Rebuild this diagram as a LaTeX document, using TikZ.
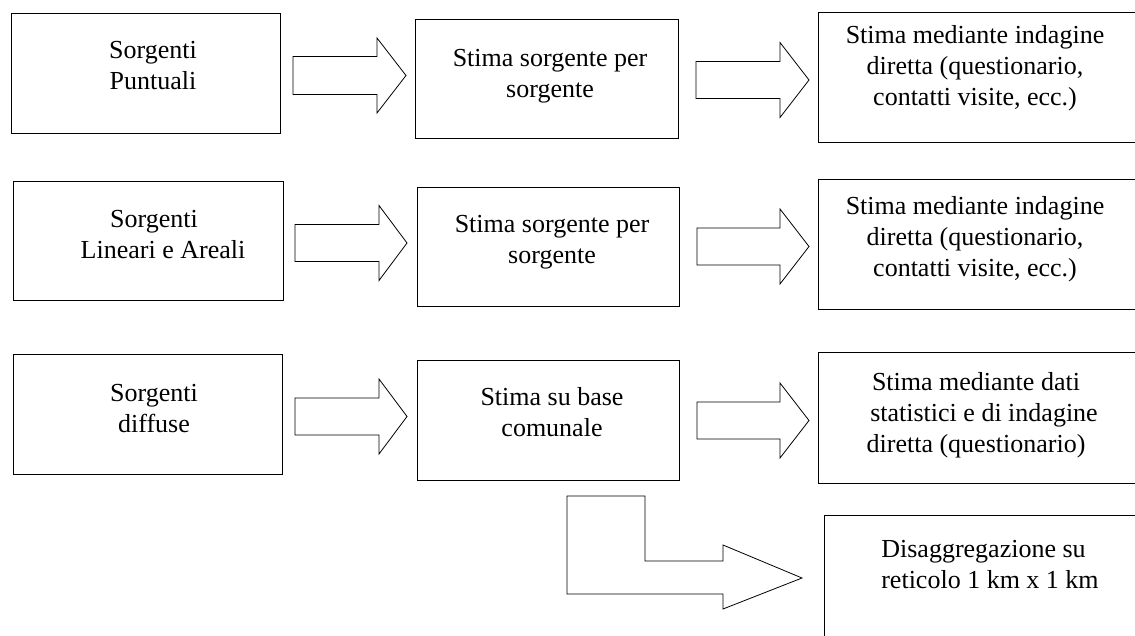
\documentclass[tikz,border=0pt]{standalone}
\usepackage{fontspec}
\setmainfont{Liberation Serif}
\newcommand\mlines[1]{\begin{tabular}[t]{@{}c@{}}#1\end{tabular}}
% x0, x head base, x tip, y centre, shaft half height, head half height
\newcommand\blkarrow[6]{%
  \draw[arrst] (#1,#4-#5) -- (#2,#4-#5) -- (#2,#4-#6) -- (#3,#4)
    -- (#2,#4+#6) -- (#2,#4+#5) -- (#1,#4+#5) -- cycle;}
\tikzset{
  boxst/.style={draw=black, line width=0.9pt, fill=white, rectangle,
    inner sep=0pt, anchor=north west},
  arrst/.style={draw=black, line width=0.8pt, fill=white, line join=miter},
  txtst/.style={inner sep=0pt, anchor=base, font=\fontsize{26}{31}\selectfont}
}
\begin{document}
\begin{tikzpicture}[x=1pt, y=-1pt]
\useasboundingbox (0,0) rectangle (1135,636);
\clip (0,0) rectangle (1135,636);
\fill[white] (0,0) rectangle (1135,636);
% boxes
\node[boxst, minimum width=269pt, minimum height=120pt] (a1) at (11,13) {};
\node[boxst, minimum width=263pt, minimum height=119pt] (b1) at (415,19) {};
\node[boxst, minimum width=330pt, minimum height=130pt] (c1) at (818,12) {};
\node[boxst, minimum width=270pt, minimum height=119pt] (a2) at (13,181) {};
\node[boxst, minimum width=262pt, minimum height=119pt] (b2) at (417,187) {};
\node[boxst, minimum width=330pt, minimum height=130pt] (c2) at (818,179) {};
\node[boxst, minimum width=269pt, minimum height=120pt] (a3) at (13,354) {};
\node[boxst, minimum width=262pt, minimum height=120pt] (b3) at (417,360) {};
\node[boxst, minimum width=330pt, minimum height=131pt] (c3) at (818,352) {};
\node[boxst, minimum width=330pt, minimum height=140pt] (d) at (824,515) {};
% block arrows
\blkarrow{293}{377}{406}{75.5}{19}{37.5}
\blkarrow{295}{379}{407}{243}{18.5}{37.5}
\blkarrow{295}{379}{407}{416.5}{18.5}{37.5}
\blkarrow{696}{780}{809}{80}{18.5}{37.5}
\blkarrow{697}{780}{809}{246.5}{18.5}{37.5}
\blkarrow{697}{780}{809}{420.5}{18.5}{37.5}
\draw[arrst] (567,496) -- (645,496) -- (645,561) -- (723,561) -- (723,545)
  -- (802,578) -- (723,609) -- (723,594) -- (567,594) -- cycle;
% texts
\node[txtst] (ta1) at (153,59) {\mlines{Sorgenti\\Puntuali}};
\node[txtst] (tb1) at (550,67) {\mlines{Stima sorgente per\\sorgente}};
\node[txtst] (tc1) at (975,44) {\mlines{Stima mediante indagine\\diretta (questionario,\\contatti visite, ecc.)}};
\node[txtst] (ta2) at (163,228) {\mlines{Sorgenti\hspace*{18pt}\\Lineari e Areali}};
\node[txtst] (tb2) at (552,233) {\mlines{Stima sorgente per\\sorgente}};
\node[txtst] (tc2) at (975,215) {\mlines{Stima mediante indagine\\diretta (questionario,\\contatti visite, ecc.)}};
\node[txtst] (ta3) at (154,401) {\mlines{Sorgenti\\diffuse}};
\node[txtst] (tb3) at (552,405) {\mlines{Stima su base\\comunale}};
\node[txtst] (tc3) at (984,390) {\mlines{Stima mediante dati\hspace*{16pt}\\statistici e di indagine\\diretta (questionario)\hspace*{16pt}}};
\node[txtst] (td) at (990,557) {\mlines{Disaggregazione su\hspace*{13pt}\\reticolo 1 km x 1 km}};
\end{tikzpicture}
\end{document}
